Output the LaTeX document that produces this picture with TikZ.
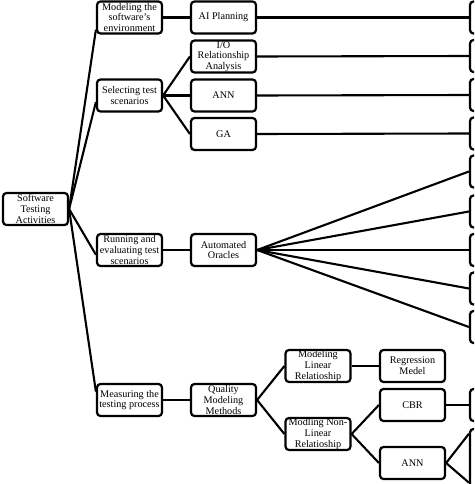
\documentclass[tikz,border=0pt]{standalone}
\usepackage{fontspec}
\setmainfont{Liberation Serif}
\begin{document}
\begin{tikzpicture}[x=1pt,y=-1pt,
  box/.style={draw,line width=2.2pt,rounded corners=3.5pt,minimum width=65pt,minimum height=32pt,
    inner sep=0.5pt,align=center,font=\fontsize{10.2}{10.7}\selectfont},
  link/.style={line width=2.1pt}]
\useasboundingbox (0,0) rectangle (474,484);
\clip (0,0) rectangle (474,484);
% root
\node[box] (root) at (35.5,209) {Software\\Testing\\Activities};
% level 1
\node[box] (m1) at (129.5,17.5) {Modeling the\\software’s\\environment};
\node[box] (s1) at (129.5,95.5) {Selecting test\\scenarios};
\node[box] (e1) at (129.5,250) {Running and\\evaluating test\\scenarios};
\node[box] (p1) at (129.5,400) {Measuring the\\testing process};
% level 2
\node[box] (aip) at (223.5,17.5) {AI Planning};
\node[box] (io) at (223.5,56.5) {I/O\\Relationship\\Analysis};
\node[box] (ann) at (223.5,95.5) {ANN};
\node[box] (ga) at (223.5,134) {GA};
\node[box] (ao) at (223.5,250) {Automated\\Oracles};
\node[box] (qm) at (223.5,400) {Quality\\Modeling\\Methods};
% level 3
\node[box] (lin) at (318,366) {Modeling\\Linear\\Relatioship};
\node[box] (nlin) at (318,434) {Modling Non-\\Linear\\Relatioship};
% level 4
\node[box] (reg) at (412.5,366) {Regression\\Medel};
\node[box] (cbr) at (412.5,405) {CBR};
\node[box] (ann2) at (412.5,463) {ANN};
% right column (cut off)
\node[box] (r1) at (502.5,17.5) {};
\node[box] (r2) at (502.5,56) {};
\node[box] (r3) at (502.5,95) {};
\node[box] (r4) at (502.5,133.5) {};
\node[box] (r5) at (502.5,171.5) {};
\node[box] (r6) at (502.5,211.5) {};
\node[box] (r7) at (502.5,250) {};
\node[box] (r8) at (502.5,288.5) {};
\node[box] (r9) at (502.5,327) {};
\node[box] (r10) at (502.5,405) {};
\node[box,minimum height=70pt] (r11) at (502.5,464) {};
% connectors
\draw[link] (root.east) -- (m1.200);
\draw[link] (root.east) -- (s1.191);
\draw[link] (root.east) -- (e1.188);
\draw[link] (root.east) -- (p1.166);
\draw[link] (m1.east) -- (aip.west);
\draw[link] (s1.east) -- (io.west);
\draw[link] (s1.east) -- (ann.west);
\draw[link] (s1.east) -- (ga.west);
\draw[link] (e1.east) -- (ao.west);
\draw[link] (p1.east) -- (qm.west);
\draw[link] (aip.east) -- (r1.west);
\draw[link] (io.east) -- (r2.west);
\draw[link] (ann.east) -- (r3.west);
\draw[link] (ga.east) -- (r4.west);
\draw[link] (ao.east) -- (r5.west);
\draw[link] (ao.east) -- (r6.west);
\draw[link] (ao.east) -- (r7.west);
\draw[link] (ao.east) -- (r8.west);
\draw[link] (ao.east) -- (r9.west);
\draw[link] (qm.east) -- (lin.west);
\draw[link] (qm.east) -- (nlin.west);
\draw[link] (lin.east) -- (reg.west);
\draw[link] (nlin.east) -- (cbr.west);
\draw[link] (nlin.east) -- (ann2.west);
\draw[link] (cbr.east) -- (r10.west);
\draw[link] (ann2.east) -- (r11.138);
\draw[link] (ann2.east) -- (r11.209);
\end{tikzpicture}
\end{document}
